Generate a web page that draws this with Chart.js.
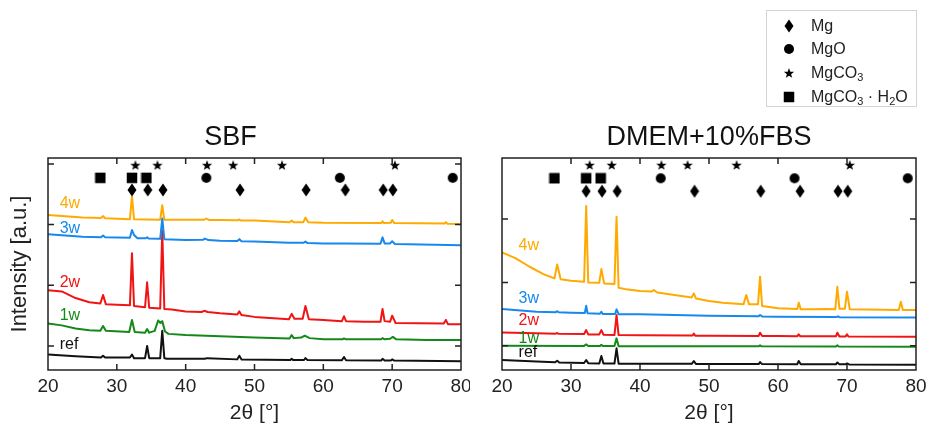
<!DOCTYPE html>
<html>
<head>
<meta charset="utf-8">
<script src="https://cdn.jsdelivr.net/npm/chart.js@4.4.1/dist/chart.umd.min.js"></script>
<style>
  body { margin: 0; background: #fff; width: 929px; height: 427px; overflow: hidden; position: relative;
         font-family: "Liberation Sans", Arial, sans-serif; }
  #sbf { position: absolute; left: 0; top: 0; }
  #dmem { position: absolute; left: 470px; top: 0; }
  #legend { position: absolute; left: 766px; top: 10px; width: 149px; height: 95px; border: 1px solid #d4d4d4; }
  .row { position: absolute; left: 0; width: 149px; height: 22px; font-size: 16px; line-height: 22px; color: #222; }
  .row canvas { position: absolute; top: 50%; transform: translate(-50%, -50%); left: 22px; }
  .row span { position: absolute; left: 44px; top: 0; }
  sub { font-size: 11px; vertical-align: -3px; line-height: 0; }
</style>
</head>
<body>
<canvas id="sbf" width="470" height="427"></canvas>
<canvas id="dmem" width="459" height="427"></canvas>
<div id="legend">
  <div class="row" style="top:4px"><span>Mg</span></div>
  <div class="row" style="top:27px"><span>MgO</span></div>
  <div class="row" style="top:51px"><span>MgCO<sub>3</sub></span></div>
  <div class="row" style="top:75px"><span>MgCO<sub>3</sub> · H<sub>2</sub>O</span></div>
</div>
<script>
// 2θ axis
const xTicks = [20, 30, 40, 50, 60, 70, 80];
const sampleNames = ["ref", "1w", "2w", "3w", "4w"];

// reference peak positions (2θ)
const mgPeaks = [32.2, 34.5, 36.7, 47.9, 57.5, 63.2, 68.7, 70.1];
const mgoPeaks = [43.0, 62.4, 78.8];
const mgco3Peaks = [32.7, 35.9, 43.1, 46.9, 54.0, 70.4];
const hydratePeaks = [27.6, 32.2, 34.3];

// SBF patterns, [2θ, intensity a.u.]
const sbfRef = [[20,-0.14],[24,-0.17],[27.7,-0.19],[28.0,-0.16],[28.3,-0.19],[31.9,-0.19],[32.2,-0.14],[32.5,-0.2],
  [34.1,-0.2],[34.4,0.0],[34.7,-0.2],[36.3,-0.2],[36.6,0.25],[36.9,-0.2],[37.3,-0.21],[42.8,-0.21],[43.1,-0.2],
  [47.5,-0.22],[47.8,-0.16],[48.1,-0.22],[55.2,-0.23],[55.4,-0.21],[55.6,-0.23],[57.2,-0.23],[57.4,-0.2],[57.7,-0.23],
  [62.7,-0.235],[63.0,-0.18],[63.3,-0.235],[68.4,-0.24],[68.6,-0.21],[68.9,-0.24],[69.8,-0.24],[70.0,-0.22],[70.3,-0.24],[80,-0.25]];
const sbf1w = [[20,0.37],[22,0.34],[24,0.29],[26,0.26],[27.6,0.25],[28.0,0.33],[28.4,0.25],[31.8,0.23],[32.2,0.43],[32.6,0.23],
  [34.1,0.22],[34.4,0.28],[34.7,0.22],[35.5,0.25],[36.0,0.42],[36.3,0.38],[36.6,0.41],[37.0,0.24],[37.5,0.2],[40,0.18],
  [45,0.16],[50,0.14],[55.1,0.125],[55.4,0.18],[55.7,0.13],[56.8,0.14],[57.3,0.17],[58.0,0.13],[60,0.11],[62.8,0.11],
  [63.0,0.125],[63.3,0.11],[68.4,0.11],[68.6,0.13],[68.9,0.11],[69.7,0.12],[70.1,0.15],[70.6,0.11],[75,0.1],[80,0.1]];
const sbf2w = [[20,0.92],[22,0.9],[24,0.79],[26,0.72],[27.6,0.7],[28.0,0.84],[28.4,0.69],[30,0.68],[31.9,0.67],[32.2,1.53],
  [32.5,0.66],[34.1,0.64],[34.4,1.05],[34.7,0.63],[36.3,0.62],[36.6,1.9],[36.9,0.61],[38,0.6],[40,0.57],[42.3,0.56],
  [42.7,0.58],[43.2,0.56],[45,0.54],[47.5,0.52],[47.8,0.57],[48.1,0.51],[50,0.48],[55.0,0.44],[55.4,0.53],[55.8,0.45],
  [57.0,0.45],[57.4,0.66],[57.9,0.44],[60,0.43],[62.7,0.41],[63.0,0.49],[63.3,0.41],[66,0.4],[68.3,0.4],[68.6,0.61],
  [68.9,0.41],[69.7,0.4],[70.0,0.5],[70.5,0.38],[77.5,0.37],[77.8,0.43],[78.1,0.36],[80,0.36]];
const sbf3w = [[20,1.84],[25,1.8],[27.7,1.79],[28.0,1.82],[28.3,1.79],[31.9,1.785],[32.2,1.91],[32.5,1.83],[33,1.775],
  [34.2,1.775],[34.4,1.79],[34.6,1.77],[36.3,1.765],[36.6,2.1],[36.9,1.76],[40,1.747],[42.5,1.75],[42.8,1.77],[43.3,1.745],
  [45,1.736],[47.5,1.73],[47.8,1.76],[48.1,1.725],[50,1.72],[55,1.70],[57.1,1.70],[57.4,1.72],[57.7,1.695],[60,1.69],
  [63,1.69],[68.3,1.685],[68.6,1.79],[68.9,1.69],[69.7,1.69],[70.0,1.725],[70.4,1.68],[80,1.66]];
const sbf4w = [[20,2.16],[25,2.115],[27.7,2.11],[28.0,2.14],[28.3,2.105],[31.9,2.09],[32.2,2.46],[32.5,2.09],[36.3,2.08],
  [36.6,2.32],[36.9,2.08],[40,2.08],[42.7,2.08],[43.0,2.1],[43.4,2.077],[45,2.077],[47.6,2.07],[47.8,2.085],[48.0,2.068],
  [50,2.066],[55.1,2.04],[55.4,2.066],[55.7,2.04],[57.1,2.04],[57.4,2.115],[57.8,2.04],[60,2.03],[68.4,2.025],[68.6,2.055],
  [68.8,2.025],[69.8,2.03],[70.0,2.077],[70.3,2.025],[77.6,2.02],[77.8,2.04],[78.0,2.015],[80,2.01]];

// DMEM+10%FBS patterns, [2θ, intensity a.u.]
const dmemRef = [[20,-0.226],[25,-0.25],[27.7,-0.263],[28.0,-0.237],[28.3,-0.265],[31.9,-0.274],[32.2,-0.226],[32.5,-0.276],
  [34.1,-0.28],[34.4,-0.163],[34.7,-0.282],[36.3,-0.282],[36.6,-0.042],[36.9,-0.284],[40,-0.285],[47.5,-0.287],
  [47.8,-0.242],[48.1,-0.288],[57.2,-0.29],[57.4,-0.26],[57.7,-0.291],[62.8,-0.292],[63.0,-0.242],[63.3,-0.293],
  [68.4,-0.294],[68.6,-0.265],[68.9,-0.295],[69.8,-0.295],[70.0,-0.28],[70.3,-0.296],[80,-0.3]];
const dmem1w = [[20,0.0],[31.9,-0.003],[32.2,0.02],[32.5,-0.004],[34.2,-0.005],[34.4,0.015],[34.6,-0.005],[36.3,-0.006],
  [36.6,0.116],[36.9,-0.008],[57.2,-0.01],[57.4,0.005],[57.6,-0.01],[68.4,-0.012],[68.6,0.005],[68.8,-0.012],[80,-0.016]];
const dmem2w = [[20,0.21],[25,0.195],[27.8,0.19],[28.0,0.2],[28.2,0.188],[31.9,0.184],[32.2,0.247],[32.5,0.178],[34.1,0.178],
  [34.4,0.247],[34.7,0.174],[36.3,0.168],[36.6,0.484],[36.9,0.168],[40,0.163],[47.6,0.16],[47.8,0.19],[48.0,0.158],
  [50,0.158],[57.2,0.155],[57.4,0.205],[57.7,0.153],[60,0.152],[62.8,0.15],[63.0,0.18],[63.2,0.15],[68.4,0.148],
  [68.6,0.205],[68.9,0.147],[69.8,0.147],[70.0,0.18],[70.2,0.146],[80,0.142]];
const dmem3w = [[20,0.579],[25,0.537],[27.8,0.53],[28.0,0.545],[28.2,0.527],[30,0.521],[32.0,0.515],[32.2,0.63],[32.4,0.512],
  [34.2,0.505],[34.4,0.537],[34.6,0.502],[36.4,0.5],[36.6,0.574],[36.9,0.497],[40,0.495],[50,0.474],[57.2,0.465],
  [57.4,0.485],[57.7,0.463],[60,0.458],[68.5,0.452],[68.7,0.465],[68.9,0.451],[80,0.447]];
const dmem4w = [[20,1.474],[22,1.379],[24,1.247],[26,1.13],[27.6,1.063],[28.0,1.284],[28.5,1.05],[30,1.026],[31.9,1.01],
  [32.2,2.205],[32.5,1.0],[34.1,0.995],[34.4,1.21],[34.8,0.984],[36.3,0.974],[36.6,2.037],[36.9,0.916],[38,0.89],
  [40,0.863],[41.7,0.855],[42.0,0.879],[42.5,0.84],[45,0.8],[47.5,0.763],[47.8,0.826],[48.1,0.747],[50,0.705],[52,0.68],
  [55.0,0.653],[55.4,0.8],[55.8,0.653],[57.1,0.653],[57.4,1.09],[57.7,0.626],[60,0.59],[62.8,0.58],[63.0,0.68],
  [63.3,0.574],[65,0.574],[67,0.58],[68.3,0.574],[68.6,0.93],[68.9,0.585],[69.7,0.585],[70.0,0.853],[70.4,0.574],
  [77.5,0.563],[77.8,0.695],[78.1,0.563],[80,0.563]];

const colors = { ref: "#111111", "1w": "#14891a", "2w": "#f01414", "3w": "#1688ee", "4w": "#ffaa00" };
const drawOrder = { ref: 5, "1w": 4, "2w": 3, "3w": 1, "4w": 2 };
const fontFamily = '"Liberation Sans", Arial, sans-serif';

function markerCanvas(kind) {
  const c = document.createElement("canvas");
  const w = kind === "diamond" ? 10 : 12, h = kind === "diamond" ? 14 : 12;
  c.width = w; c.height = h;
  const g = c.getContext("2d");
  g.fillStyle = "#000";
  g.beginPath();
  if (kind === "diamond") {
    g.moveTo(w / 2, 0.5); g.lineTo(w - 0.5, h / 2); g.lineTo(w / 2, h - 0.5); g.lineTo(0.5, h / 2);
  } else if (kind === "circle") {
    g.arc(6, 6, 5, 0, Math.PI * 2);
  } else if (kind === "square") {
    g.rect(0.75, 0.75, 10.5, 10.5);
  } else {
    for (let i = 0; i < 10; i++) {
      const r = i % 2 ? 2.2 : 5.4, a = -Math.PI / 2 + i * Math.PI / 5;
      g.lineTo(6 + r * Math.cos(a), 6.5 + r * Math.sin(a));
    }
  }
  g.closePath(); g.fill();
  return c;
}
const marks = { diamond: markerCanvas("diamond"), circle: markerCanvas("circle"),
                star: markerCanvas("star"), square: markerCanvas("square") };

// legend markers
["diamond", "circle", "star", "square"].forEach((k, i) => {
  document.querySelectorAll("#legend .row")[i].prepend(markerCanvas(k));
});

// frame with inward ticks on all four sides
const framePlugin = {
  id: "frame",
  afterDatasetsDraw(chart, args, opts) {
    const { ctx, chartArea: a, scales: { x, y } } = chart;
    ctx.save();
    ctx.strokeStyle = "#222";
    ctx.lineWidth = 1.5;
    ctx.beginPath();
    xTicks.slice(1, -1).forEach(v => {
      const px = x.getPixelForValue(v);
      ctx.moveTo(px, a.bottom); ctx.lineTo(px, a.bottom - 6);
      ctx.moveTo(px, a.top); ctx.lineTo(px, a.top + 6);
    });
    opts.yTicks.forEach(v => {
      const py = y.getPixelForValue(v);
      ctx.moveTo(a.left, py); ctx.lineTo(a.left + 6, py);
      ctx.moveTo(a.right, py); ctx.lineTo(a.right - 6, py);
    });
    ctx.stroke();
    ctx.strokeRect(a.left, a.top, a.right - a.left, a.bottom - a.top);
    ctx.restore();
  }
};

// sample names next to traces
const labelPlugin = {
  id: "traceLabels",
  afterDatasetsDraw(chart, args, opts) {
    const { ctx, scales: { x, y } } = chart;
    ctx.save();
    ctx.font = "16px " + fontFamily;
    ctx.textBaseline = "middle";
    opts.items.forEach(it => {
      ctx.fillStyle = colors[it.name];
      ctx.fillText(it.name, x.getPixelForValue(it.x), y.getPixelForValue(it.y));
    });
    ctx.restore();
  }
};

function buildChart(id, title, series, cfg) {
  const datasets = [];
  sampleNames.forEach((name, i) => {
    datasets.push({
      data: series[i].map(p => ({ x: p[0], y: p[1] })),
      borderColor: colors[name], borderWidth: 2, pointRadius: 0, fill: false,
      borderJoinStyle: "round", order: drawOrder[name]
    });
  });
  const rows = [[mgco3Peaks, "star", cfg.rows[0]], [hydratePeaks, "square", cfg.rows[1]],
                [mgoPeaks, "circle", cfg.rows[1]], [mgPeaks, "diamond", cfg.rows[2]]];
  rows.forEach(([peaks, kind, rowY]) => {
    datasets.push({
      data: peaks.map(v => ({ x: v, y: rowY })),
      showLine: false, pointStyle: marks[kind], pointRadius: 5, order: 0
    });
  });

  return new Chart(document.getElementById(id), {
    type: "line",
    data: { datasets },
    options: {
      responsive: false,
      animation: false,
      layout: { padding: cfg.padding },
      scales: {
        x: {
          type: "linear", min: 20, max: 80,
          afterBuildTicks: s => { s.ticks = xTicks.map(v => ({ value: v })); },
          ticks: { color: "#222", font: { size: 19, family: fontFamily }, padding: 5, maxRotation: 0 },
          grid: { display: false, drawTicks: false },
          border: { display: false },
          title: { display: true, text: "2θ [°]", color: "#222", font: { size: 21, family: fontFamily },
                   padding: { top: 0, bottom: 1 } },
          afterFit: s => { s.height = 57; s.paddingLeft = 0; s.paddingRight = 0; }
        },
        y: {
          type: "linear", min: cfg.yMin, max: cfg.yMax,
          display: cfg.showY,
          ticks: { display: false },
          grid: { display: false, drawTicks: false },
          border: { display: false },
          title: { display: true, text: "Intensity [a.u.]", color: "#222", font: { size: 22, family: fontFamily },
                   padding: { top: 7, bottom: 0 } },
          afterFit: s => { s.width = cfg.showY ? 48 : 0; }
        }
      },
      plugins: {
        legend: { display: false },
        tooltip: { enabled: false },
        title: { display: true, text: title, color: "#111", font: { size: 27, weight: "normal", family: fontFamily },
                 padding: { top: 121, bottom: 4.6 } },
        frame: { yTicks: cfg.yTicks },
        traceLabels: { items: cfg.labels }
      }
    },
    plugins: [framePlugin, labelPlugin]
  });
}

buildChart("sbf", "SBF", [sbfRef, sbf1w, sbf2w, sbf3w, sbf4w], {
  yMin: -0.395, yMax: 3.097, yTicks: [0, 1, 2, 3], showY: true,
  padding: { left: 0, right: 9, top: 0, bottom: 0 },
  rows: [2.98, 2.77, 2.57],
  labels: [
    { name: "4w", x: 21.7, y: 2.35 }, { name: "3w", x: 21.7, y: 1.93 }, { name: "2w", x: 21.7, y: 1.05 },
    { name: "1w", x: 21.7, y: 0.5 }, { name: "ref", x: 21.7, y: 0.03 }
  ]
});

buildChart("dmem", "DMEM+10%FBS", [dmemRef, dmem1w, dmem2w, dmem3w, dmem4w], {
  yMin: -0.384, yMax: 2.965, yTicks: [0, 1, 2], showY: false,
  padding: { left: 32, right: 13, top: 0, bottom: 0 },
  rows: [2.855, 2.645, 2.44],
  labels: [
    { name: "4w", x: 22.4, y: 1.575 }, { name: "3w", x: 22.4, y: 0.738 }, { name: "2w", x: 22.4, y: 0.39 },
    { name: "1w", x: 22.4, y: 0.105 }, { name: "ref", x: 22.4, y: -0.11 }
  ]
});
</script>
</body>
</html>
